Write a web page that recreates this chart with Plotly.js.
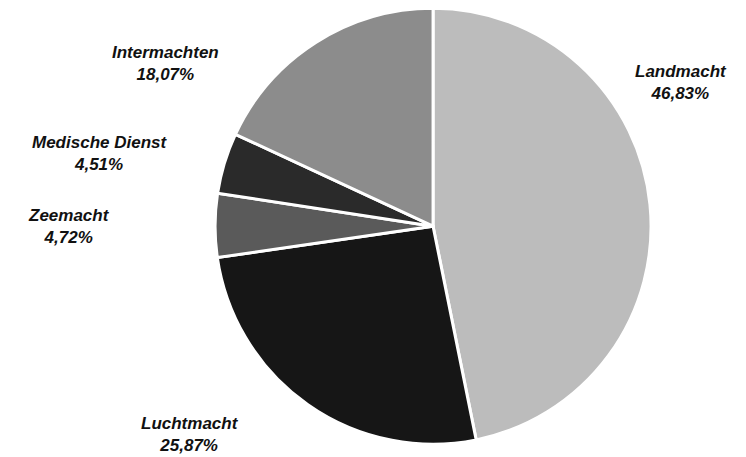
<!DOCTYPE html>
<html>
<head>
<meta charset="utf-8">
<script src="https://cdn.plot.ly/plotly-3.0.1.min.js"></script>
<style>html,body{margin:0;padding:0;background:#fff;}#chart{width:746px;height:457px;}</style>
</head>
<body>
<div id="chart"></div>
<script>
const labels = ["Landmacht", "Luchtmacht", "Zeemacht", "Medische Dienst", "Intermachten"];
const values = [46.83, 25.87, 4.72, 4.51, 18.07];
const colors = ["#bcbcbc", "#161616", "#5a5a5a", "#2a2a2a", "#8c8c8c"];
// label anchor positions in paper coordinates (x, y)
const labelPos = [[0.913, 0.82], [0.255, 0.05], [0.093, 0.505], [0.134, 0.665], [0.222, 0.86]];

const fmt = v => v.toFixed(2).replace('.', ',') + '%';

const trace = {
  type: 'pie',
  labels: labels,
  values: values,
  sort: false,
  direction: 'clockwise',
  rotation: 0,
  textinfo: 'none',
  hoverinfo: 'label+percent',
  marker: {colors: colors, line: {color: '#ffffff', width: 3}},
  domain: {x: [0.288, 0.873], y: [0.028, 0.982]},
  showlegend: false
};

const annotations = labels.map((l, i) => ({
  xref: 'paper', yref: 'paper',
  x: labelPos[i][0], y: labelPos[i][1],
  xanchor: 'center', yanchor: 'middle',
  text: '<b><i>' + l + '<br>' + fmt(values[i]) + '</i></b>',
  showarrow: false,
  align: 'center',
  font: {family: 'Liberation Sans, Arial, sans-serif', size: 17, color: '#111'}
}));

const layout = {
  width: 746, height: 457,
  margin: {l: 0, r: 0, t: 0, b: 0},
  paper_bgcolor: '#ffffff',
  plot_bgcolor: '#ffffff',
  annotations: annotations,
  showlegend: false
};

Plotly.newPlot('chart', [trace], layout, {displayModeBar: false, staticPlot: true});
</script>
</body>
</html>
